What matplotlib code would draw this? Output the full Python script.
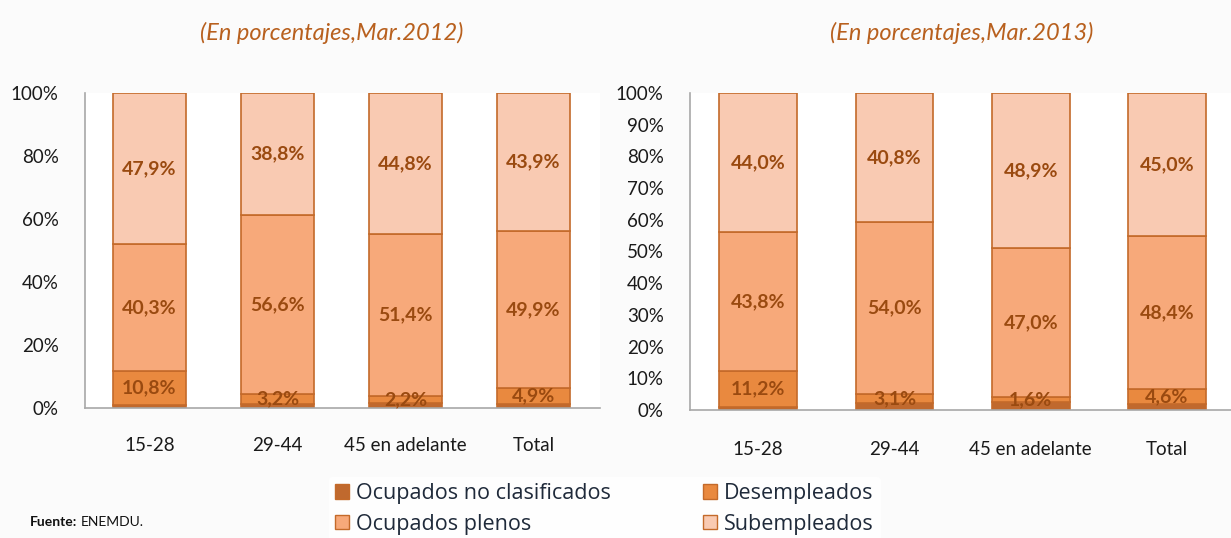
import matplotlib
matplotlib.use("Agg")
import matplotlib.pyplot as plt
from matplotlib.patches import Patch
import numpy as np

plt.rcParams['font.family'] = ['Lato', 'DejaVu Sans']

categories = ["15-28", "29-44", "45 en adelante", "Total"]
series_names = ["Ocupados no clasificados", "Desempleados", "Ocupados plenos", "Subempleados"]

# Mar. 2012
no_clas_2012 = [1.0, 1.4, 1.6, 1.3]
desemp_2012 = [10.8, 3.2, 2.2, 4.9]
plenos_2012 = [40.3, 56.6, 51.4, 49.9]
subemp_2012 = [47.9, 38.8, 44.8, 43.9]

# Mar. 2013
no_clas_2013 = [1.0, 2.1, 2.5, 2.0]
desemp_2013 = [11.2, 3.1, 1.6, 4.6]
plenos_2013 = [43.8, 54.0, 47.0, 48.4]
subemp_2013 = [44.0, 40.8, 48.9, 45.0]

titles = ["(En porcentajes,Mar.2012)", "(En porcentajes,Mar.2013)"]

colors = ["#C0692E", "#E9893F", "#F7A97A", "#F9CAB2"]
edge = "#C46A2A"
label_color = "#9A4A10"

fig = plt.figure(figsize=(12.31, 5.38), dpi=100, facecolor="#FBFBFB")

ax1 = fig.add_axes([85/1231, 1-408/538, 515/1231, 315/538])
ax2 = fig.add_axes([690/1231, 1-410/538, 541/1231, 317/538])

def draw(ax, data, yticks, xlim, xpad):
    ax.set_facecolor("white")
    x = np.arange(len(categories))
    bottom = np.zeros(len(categories))
    for i, vals in enumerate(data):
        vals = np.array(vals)
        ax.bar(x, vals, 0.57, bottom=bottom, color=colors[i], edgecolor=edge,
               linewidth=1.2, zorder=2)
        if i > 0:
            for xi, v, b in zip(x, vals, bottom):
                ax.text(xi, b + v/2, f"{v:.1f}%".replace(".", ","), ha="center",
                        va="center", fontsize=14, fontweight="bold",
                        color=label_color, zorder=3)
        bottom += vals
    ax.set_ylim(0, 100)
    ax.set_xlim(*xlim)
    ax.set_yticks(yticks)
    ax.set_yticklabels([f"{t}%" for t in yticks], fontsize=13.5, color="#1a1a1a")
    ax.set_xticks(x)
    ax.set_xticklabels(categories, fontsize=13.5, color="#1a1a1a")
    ax.tick_params(axis="y", length=0, pad=19)
    ax.tick_params(axis="x", length=0, pad=xpad)
    for s in ["top", "right"]:
        ax.spines[s].set_visible(False)
    for s in ["left", "bottom"]:
        ax.spines[s].set_color("#A8A8A8")
        ax.spines[s].set_linewidth(1.2)

draw(ax1, [no_clas_2012, desemp_2012, plenos_2012, subemp_2012],
     [0, 20, 40, 60, 80, 100], (-0.504, 3.52), 21)
draw(ax2, [no_clas_2013, desemp_2013, plenos_2013, subemp_2013],
     list(range(0, 101, 10)), (-0.5, 3.47), 22)

for xc, t in zip([332, 962], titles):
    fig.text(xc/1231, 1-33/538, t, ha="center", va="center", fontsize=17,
             style="italic", color="#B8601E")

handles = [Patch(facecolor=colors[i], edgecolor=edge, linewidth=1) for i in range(4)]
order = [0, 2, 1, 3]
leg = fig.legend([handles[i] for i in order], [series_names[i] for i in order],
                 ncol=2, loc="center left", bbox_to_anchor=(318/1231, 1-509/538),
                 frameon=True, prop={'family': ['Open Sans', 'DejaVu Sans'], 'size': 15.5},
                 handlelength=0.65, handleheight=0.65,
                 handletextpad=0.3, columnspacing=4.3, labelspacing=0.45,
                 borderpad=0.3)
leg.get_frame().set_facecolor("white")
leg.get_frame().set_edgecolor("white")
for t in leg.get_texts():
    t.set_color("#1F2A3A")

fig.text(30/1231, 1-522/538, "Fuente:", fontsize=10, fontweight="bold",
         color="#111111", va="center", ha="left")
fig.text(81/1231, 1-522/538, "ENEMDU.", fontsize=10, color="#111111",
         va="center", ha="left")

fig.savefig("out.png", dpi=100, facecolor=fig.get_facecolor())
